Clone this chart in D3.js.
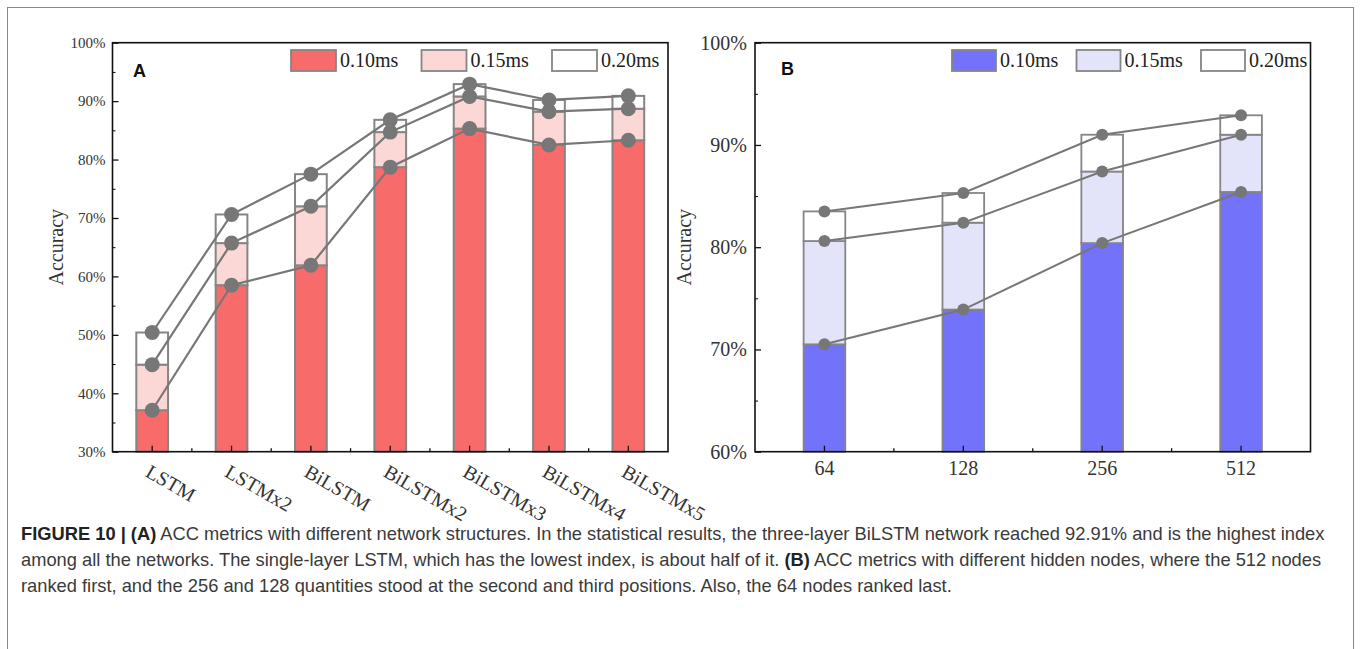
<!DOCTYPE html>
<html>
<head>
<meta charset="utf-8">
<script src="https://cdn.jsdelivr.net/npm/d3@7"></script>
<style>
  html, body { margin: 0; padding: 0; background: #fff; }
  #chart { width: 1360px; height: 649px; }
</style>
</head>
<body>
<div id="chart"></div>
<script>
// ---- data ----
const structures = ["LSTM", "LSTMx2", "BiLSTM", "BiLSTMx2", "BiLSTMx3", "BiLSTMx4", "BiLSTMx5"];
const structAcc010 = [37.1, 58.5, 61.9, 78.7, 85.3, 82.5, 83.3];
const structAcc015 = [44.9, 65.7, 72.0, 84.7, 90.8, 88.2, 88.7];
const structAcc020 = [50.4, 70.6, 77.5, 86.8, 92.91, 90.2, 90.9];

const hiddenNodes = ["64", "128", "256", "512"];
const nodesAcc010 = [70.5, 73.9, 80.4, 85.4];
const nodesAcc015 = [80.6, 82.4, 87.4, 91.0];
const nodesAcc020 = [83.5, 85.3, 91.0, 92.9];

const seriesNames = ["0.10ms", "0.15ms", "0.20ms"];
const ticksA = [30, 40, 50, 60, 70, 80, 90, 100];
const ticksB = [60, 70, 80, 90, 100];

const width = 1360;
const height = 649;

const svg = d3.select("#chart")
    .append("svg")
    .attr("width", width)
    .attr("height", height);

svg.append("rect")
    .attr("width", width)
    .attr("height", height)
    .attr("fill", "#fff");

// outer figure frame (runs off the bottom)
svg.append("rect")
    .attr("x", 7.5)
    .attr("y", 7.5)
    .attr("width", 1346)
    .attr("height", 700)
    .attr("fill", "none")
    .attr("stroke", "#8a8a8a")
    .attr("stroke-width", 1);

const serif = "'Liberation Serif', 'Times New Roman', serif";
const sans = "'Liberation Sans', Arial, sans-serif";
const gray = "#777777";

/*
DRAW ONE PANEL
*/
function drawPanel(p) {
    const g = svg.append("g");

    const x = d3.scaleBand()
        .domain(p.categories)
        .range([p.left, p.right])
        .paddingInner(p.pad)
        .paddingOuter(p.pad / 2);

    const y = d3.scaleLinear()
        .domain([p.ticks[0], p.ticks[p.ticks.length - 1]])
        .range([p.bottom, p.top]);

    const rows = p.categories.map((c, i) => ({
        cat: c,
        v: [p.ticks[0], p.series[0][i], p.series[1][i], p.series[2][i]]
    }));

    // stacked segments
    for (let s = 0; s < 3; s++) {
        g.selectAll(".seg" + s)
            .data(rows)
            .enter()
            .append("rect")
            .attr("x", d => x(d.cat))
            .attr("y", d => y(d.v[s + 1]))
            .attr("width", x.bandwidth())
            .attr("height", d => y(d.v[s]) - y(d.v[s + 1]))
            .attr("fill", p.colors[s])
            .attr("stroke", "#858585")
            .attr("stroke-width", p.barStroke);
    }

    // axes (ticks point inward)
    const minorY = d3.range(p.ticks[0] + 5, p.ticks[p.ticks.length - 1], 10);
    g.append("g")
        .attr("transform", `translate(${p.left},0)`)
        .call(d3.axisLeft(y).tickValues(minorY).tickSize(-3).tickSizeOuter(0).tickFormat(""))
        .call(a => a.select(".domain").remove());

    const yAxis = g.append("g")
        .attr("transform", `translate(${p.left},0)`)
        .call(d3.axisLeft(y).tickValues(p.ticks).tickSize(-6).tickSizeOuter(0)
            .tickPadding(p.yPad).tickFormat(d => d + "%"));
    yAxis.select(".domain").remove();
    yAxis.selectAll("line").attr("stroke", "#111").attr("stroke-width", 1.3);
    yAxis.selectAll("text")
        .attr("font-family", serif)
        .attr("font-size", p.tickFont)
        .attr("fill", "#333");

    const bounds = p.categories.slice(1).map((c, i) => x(c) - x.step() * p.pad / 2);
    bounds.forEach(b => {
        g.append("line")
            .attr("x1", b).attr("x2", b)
            .attr("y1", p.bottom).attr("y2", p.bottom - 3.5)
            .attr("stroke", "#111").attr("stroke-width", 1.3);
    });

    const xAxis = g.append("g")
        .attr("transform", `translate(0,${p.bottom})`)
        .call(d3.axisBottom(x).tickSize(-6).tickSizeOuter(0).tickPadding(p.xPad));
    xAxis.select(".domain").remove();
    xAxis.selectAll("line").attr("stroke", "#111").attr("stroke-width", 1.3);
    xAxis.selectAll("text")
        .attr("font-family", serif)
        .attr("font-size", p.xFont)
        .attr("fill", "#333");

    if (p.rotate) {
        xAxis.selectAll("text")
            .attr("text-anchor", "start")
            .attr("dy", null)
            .attr("y", null)
            .attr("transform", `translate(${p.labelDx},${p.labelDy}) rotate(${p.rotate})`);
    }

    // plot frame
    g.append("rect")
        .attr("x", p.left)
        .attr("y", p.top)
        .attr("width", p.right - p.left)
        .attr("height", p.bottom - p.top)
        .attr("fill", "none")
        .attr("stroke", "#111")
        .attr("stroke-width", 1.6);

    // connecting lines and markers
    const cx = d => x(d.cat) + x.bandwidth() / 2;
    for (let s = 1; s <= 3; s++) {
        const line = d3.line()
            .x(cx)
            .y(d => y(d.v[s]));
        g.append("path")
            .datum(rows)
            .attr("d", line)
            .attr("fill", "none")
            .attr("stroke", gray)
            .attr("stroke-width", p.lineW);
    }
    for (let s = 1; s <= 3; s++) {
        g.selectAll(".dot" + s)
            .data(rows)
            .enter()
            .append("circle")
            .attr("cx", cx)
            .attr("cy", d => y(d.v[s]))
            .attr("r", p.r)
            .attr("fill", gray);
    }

    // axis title
    g.append("text")
        .attr("transform", `translate(${p.titleX},${(p.top + p.bottom) / 2}) rotate(-90)`)
        .attr("text-anchor", "middle")
        .attr("font-family", serif)
        .attr("font-size", 20)
        .attr("fill", "#333")
        .text("Accuracy");

    // panel letter
    g.append("text")
        .attr("x", p.letterX)
        .attr("y", p.letterY)
        .attr("font-family", sans)
        .attr("font-weight", "bold")
        .attr("font-size", 18)
        .attr("fill", "#111")
        .text(p.letter);

    // legend
    seriesNames.forEach((name, i) => {
        const lx = p.legendX + i * p.legendStep;
        g.append("rect")
            .attr("x", lx)
            .attr("y", 50)
            .attr("width", p.legendW)
            .attr("height", 21)
            .attr("fill", p.colors[i])
            .attr("stroke", "#858585")
            .attr("stroke-width", 1.8);
        g.append("text")
            .attr("x", lx + p.legendW + 4)
            .attr("y", 67)
            .attr("font-family", serif)
            .attr("font-size", 20)
            .attr("fill", "#222")
            .text(name);
    });
}

drawPanel({
    categories: structures,
    series: [structAcc010, structAcc015, structAcc020],
    ticks: ticksA,
    colors: ["#f76b6b", "#fbd7d5", "#ffffff"],
    left: 112.5, right: 668, top: 42.7, bottom: 451.7,
    pad: 0.6,
    barStroke: 2,
    yPad: 7, tickFont: 15,
    xPad: 0, xFont: 20,
    rotate: 30, labelDx: -8, labelDy: 24,
    lineW: 2.2, r: 7.5,
    titleX: 63,
    letter: "A", letterX: 133, letterY: 77,
    legendX: 291, legendStep: 130.5, legendW: 45
});

drawPanel({
    categories: hiddenNodes,
    series: [nodesAcc010, nodesAcc015, nodesAcc020],
    ticks: ticksB,
    colors: ["#7272fb", "#e3e3f9", "#ffffff"],
    left: 755, right: 1310.5, top: 42.7, bottom: 451.7,
    pad: 0.7,
    barStroke: 1.8,
    yPad: 8, tickFont: 20,
    xPad: 9, xFont: 20,
    rotate: 0,
    lineW: 2, r: 6,
    titleX: 691,
    letter: "B", letterX: 781, letterY: 75,
    legendX: 952, legendStep: 124.5, legendW: 44
});

/*
CAPTION
*/
const captionLines = [
    [["FIGURE 10 | ", true], ["(A)", true], [" ACC metrics with different network structures. In the statistical results, the three-layer BiLSTM network reached 92.91% and is the highest index", false]],
    [["among all the networks. The single-layer LSTM, which has the lowest index, is about half of it. ", false], ["(B)", true], [" ACC metrics with different hidden nodes, where the 512 nodes", false]],
    [["ranked first, and the 256 and 128 quantities stood at the second and third positions. Also, the 64 nodes ranked last.", false]]
];

const caption = svg.append("g");
captionLines.forEach((parts, i) => {
    const t = caption.append("text")
        .attr("class", "cap")
        .attr("x", 21)
        .attr("y", 540 + i * 25.8)
        .attr("font-family", sans)
        .attr("font-size", 16)
        .attr("fill", "#3a3a3a");
    parts.forEach(pt => {
        t.append("tspan")
            .attr("font-weight", pt[1] ? "bold" : null)
            .attr("fill", pt[1] ? "#222" : null)
            .text(pt[0]);
    });
});

// fit the first caption line to the width it has in the figure
const firstLen = caption.select("text").node().getComputedTextLength();
const capSize = 16 * 1304 / firstLen;
caption.selectAll("text").attr("font-size", capSize);
</script>
</body>
</html>
